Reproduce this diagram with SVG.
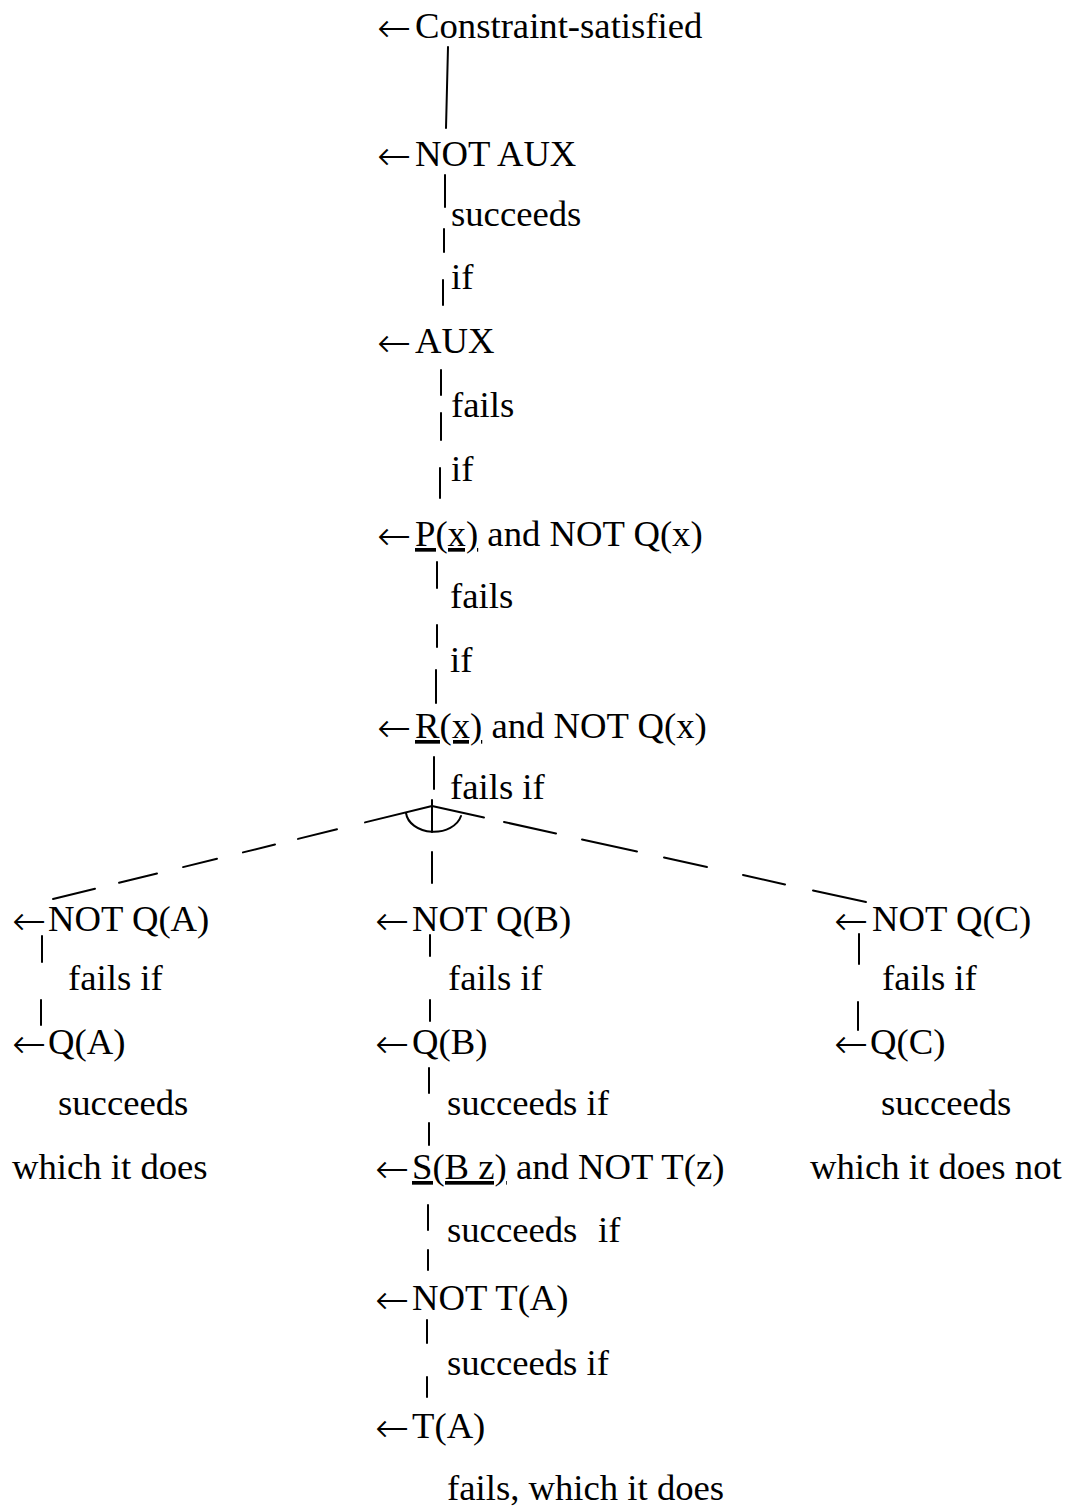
<svg xmlns="http://www.w3.org/2000/svg" width="1072" height="1508" viewBox="0 0 1072 1508">
  <style>
    text { font-family: "Liberation Serif", "Times New Roman", serif; font-size: 36.7px; fill: #000; }
    .a { font-family: "DejaVu Sans", sans-serif; font-size: 41px; font-weight: 200; }
    .u { text-decoration: underline; text-decoration-skip-ink: none; }
    line, path { stroke: #000; stroke-width: 2; fill: none; stroke-linecap: round; }
  </style>
  <rect width="1072" height="1508" fill="#fff"/>

  <!-- connectors -->
  <g id="connectors">
    <!-- main trunk -->
    <line x1="448" y1="47" x2="446" y2="128"/>
    <line x1="445" y1="175" x2="445" y2="207"/>
    <line x1="444" y1="229" x2="444" y2="252"/>
    <line x1="443" y1="280" x2="443" y2="305"/>
    <line x1="441" y1="370" x2="441" y2="395"/>
    <line x1="441" y1="413" x2="441" y2="440"/>
    <line x1="440" y1="468" x2="440" y2="498"/>
    <line x1="437" y1="562" x2="437" y2="588"/>
    <line x1="437" y1="625" x2="437" y2="647"/>
    <line x1="436" y1="670" x2="436" y2="703"/>
    <line x1="434" y1="757" x2="434" y2="789"/>
    <line x1="432" y1="800" x2="432" y2="832"/>
    <line x1="432" y1="852" x2="432" y2="883"/>
    <!-- conjunction arc -->
    <path d="M406,813 A28,21 0 0 0 461,816"/>
    <!-- left branch -->
    <line x1="432" y1="806" x2="365" y2="822.4"/>
    <line x1="337" y1="829.3" x2="298" y2="838.9"/>
    <line x1="275" y1="844.5" x2="243" y2="852.4"/>
    <line x1="217" y1="858.8" x2="183" y2="867.1"/>
    <line x1="157" y1="873.5" x2="119" y2="882.8"/>
    <line x1="95" y1="888.7" x2="53" y2="899"/>
    <!-- right branch -->
    <line x1="432" y1="806" x2="484" y2="817.5"/>
    <line x1="504" y1="822" x2="556" y2="833.5"/>
    <line x1="582" y1="839.5" x2="637" y2="851.5"/>
    <line x1="664" y1="857.5" x2="707" y2="867"/>
    <line x1="743" y1="875" x2="785" y2="884.5"/>
    <line x1="813" y1="890.5" x2="866" y2="902"/>
    <!-- left column -->
    <line x1="42" y1="936" x2="42" y2="962"/>
    <line x1="41" y1="1000" x2="41" y2="1025"/>
    <!-- middle column -->
    <line x1="430" y1="935" x2="430" y2="956"/>
    <line x1="430" y1="1000" x2="430" y2="1021"/>
    <line x1="429" y1="1068" x2="429" y2="1093"/>
    <line x1="429" y1="1123" x2="429" y2="1145"/>
    <line x1="428" y1="1205" x2="428" y2="1230"/>
    <line x1="428" y1="1250" x2="428" y2="1270"/>
    <line x1="427" y1="1320" x2="427" y2="1343"/>
    <line x1="427" y1="1377" x2="427" y2="1397"/>
    <!-- right column -->
    <line x1="859" y1="934" x2="859" y2="964"/>
    <line x1="858" y1="1002" x2="858" y2="1030"/>
  </g>

  <!-- main chain -->
  <g id="n-constraint"><text y="38"><tspan class="a" x="377" dy="4">←</tspan><tspan x="415" dy="-4">Constraint-satisfied</tspan></text></g>
  <g id="n-not-aux"><text y="166"><tspan class="a" x="377" dy="4">←</tspan><tspan x="415" dy="-4">NOT AUX</tspan></text></g>
  <g id="l-succeeds-1"><text x="451" y="226">succeeds</text><text x="451" y="289">if</text></g>
  <g id="n-aux"><text y="353"><tspan class="a" x="377" dy="4">←</tspan><tspan x="415" dy="-4">AUX</tspan></text></g>
  <g id="l-fails-1"><text x="451" y="417">fails</text><text x="451" y="481">if</text></g>
  <g id="n-p"><text y="546"><tspan class="a" x="377" dy="4">←</tspan><tspan x="415" dy="-4" class="u">P(x)</tspan> and NOT Q(x)</text></g>
  <g id="l-fails-2"><text x="450" y="608">fails</text><text x="450" y="672">if</text></g>
  <g id="n-r"><text y="738"><tspan class="a" x="377" dy="4">←</tspan><tspan x="415" dy="-4" class="u">R(x)</tspan> and NOT Q(x)</text></g>
  <g id="l-fails-3"><text x="450" y="799">fails if</text></g>

  <!-- left branch -->
  <g id="n-not-qa"><text y="931"><tspan class="a" x="12" dy="4">←</tspan><tspan x="48" dy="-4">NOT Q(A)</tspan></text></g>
  <g id="l-qa"><text x="68" y="990">fails if</text></g>
  <g id="n-qa"><text y="1054"><tspan class="a" x="12" dy="4">←</tspan><tspan x="48" dy="-4">Q(A)</tspan></text></g>
  <g id="l-qa-result"><text x="58" y="1115">succeeds</text><text x="12" y="1179">which it does</text></g>

  <!-- middle branch -->
  <g id="n-not-qb"><text y="931"><tspan class="a" x="375" dy="4">←</tspan><tspan x="412" dy="-4">NOT Q(B)</tspan></text></g>
  <g id="l-qb"><text x="448" y="990">fails if</text></g>
  <g id="n-qb"><text y="1054"><tspan class="a" x="375" dy="4">←</tspan><tspan x="412" dy="-4">Q(B)</tspan></text></g>
  <g id="l-sb"><text x="447" y="1115">succeeds if</text></g>
  <g id="n-s"><text y="1179"><tspan class="a" x="375" dy="4">←</tspan><tspan x="412" dy="-4" class="u">S(B z)</tspan> and NOT T(z)</text></g>
  <g id="l-not-ta"><text y="1242"><tspan x="447">succeeds</tspan><tspan x="598">if</tspan></text></g>
  <g id="n-not-ta"><text y="1310"><tspan class="a" x="375" dy="4">←</tspan><tspan x="412" dy="-4">NOT T(A)</tspan></text></g>
  <g id="l-ta"><text x="447" y="1375">succeeds if</text></g>
  <g id="n-ta"><text y="1438"><tspan class="a" x="375" dy="4">←</tspan><tspan x="412" dy="-4">T(A)</tspan></text></g>
  <g id="l-ta-result"><text x="447" y="1500">fails, which it does</text></g>

  <!-- right branch -->
  <g id="n-not-qc"><text y="931"><tspan class="a" x="834" dy="4">←</tspan><tspan x="872" dy="-4">NOT Q(C)</tspan></text></g>
  <g id="l-qc"><text x="882" y="990">fails if</text></g>
  <g id="n-qc"><text y="1054"><tspan class="a" x="834" dy="4">←</tspan><tspan x="870" dy="-4">Q(C)</tspan></text></g>
  <g id="l-qc-result"><text x="881" y="1115">succeeds</text><text x="810" y="1179">which it does not</text></g>
</svg>
